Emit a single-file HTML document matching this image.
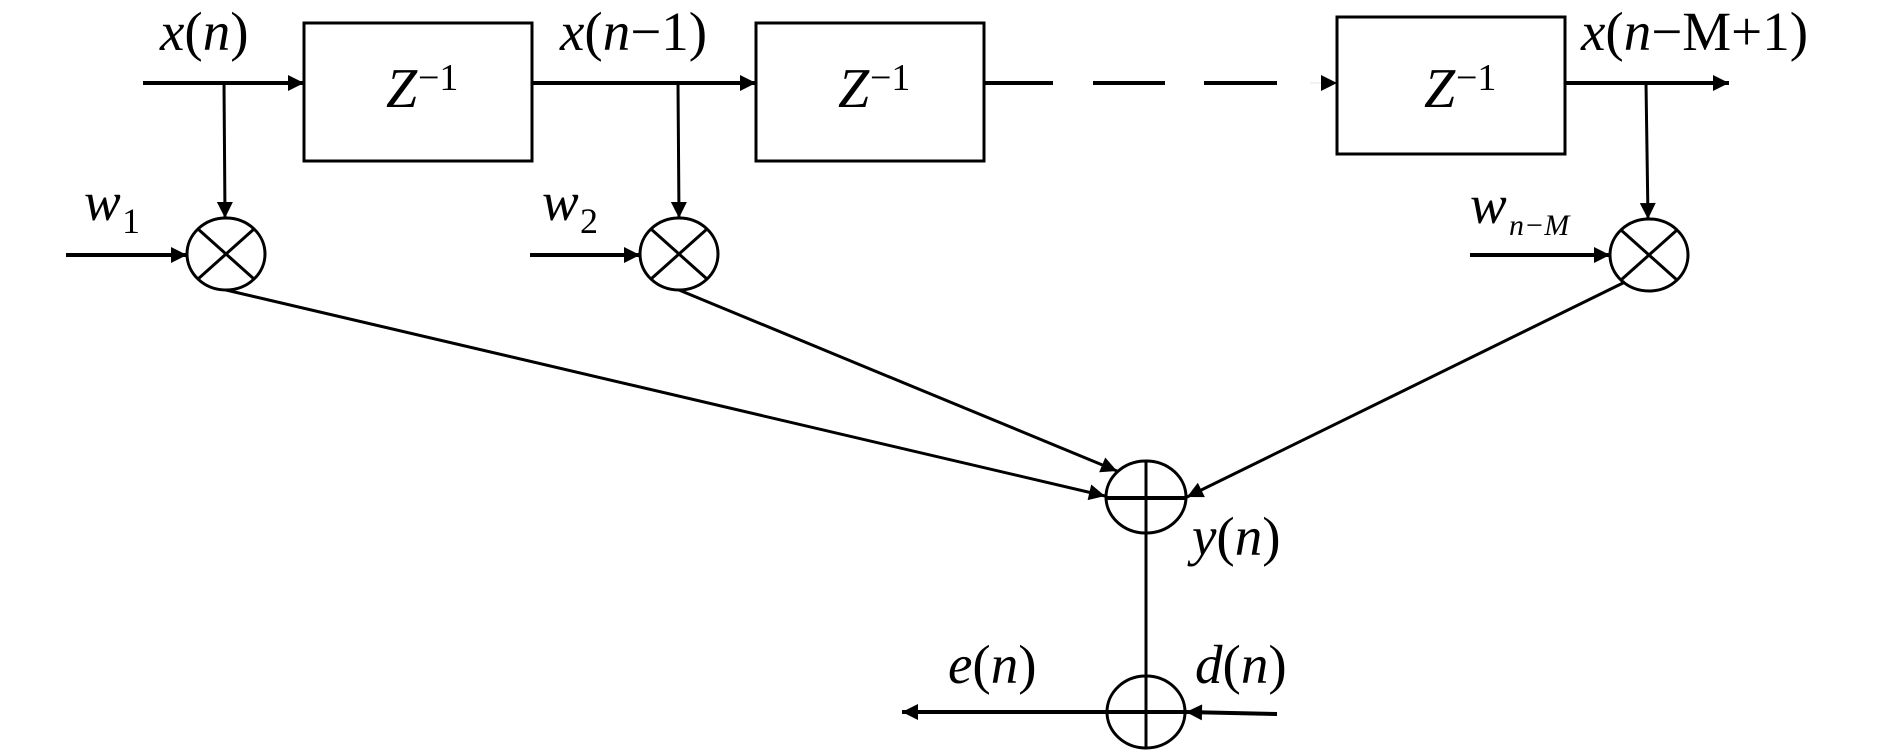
<!DOCTYPE html>
<html><head><meta charset="utf-8"><style>
html,body{margin:0;padding:0;background:#fff}
svg{display:block}
text{font-family:"Liberation Serif",serif;fill:#000}
.i{font-style:italic}
</style></head><body>
<svg width="1890" height="751" viewBox="0 0 1890 751" xmlns="http://www.w3.org/2000/svg">
<defs>
<marker id="a" viewBox="0 0 10 10" refX="10" refY="5" markerWidth="8" markerHeight="6" markerUnits="userSpaceOnUse" orient="auto" overflow="visible">
<path d="M0,0 L10,5 L0,10 Z" fill="#000"/>
</marker>
<marker id="b" viewBox="0 0 10 10" refX="10" refY="5" markerWidth="24" markerHeight="16" markerUnits="userSpaceOnUse" orient="auto">
<path d="M0,0 L10,5 L0,10 Z" fill="#000"/>
</marker>
</defs>
<g stroke="#000" stroke-width="3" fill="none">
<!-- top signal line -->
<line x1="143" y1="83" x2="304" y2="83" stroke-width="4" marker-end="url(#b)"/>
<rect x="304" y="23" width="228" height="138"/>
<line x1="532" y1="83" x2="756" y2="83" stroke-width="4" marker-end="url(#b)"/>
<rect x="756" y="23" width="228" height="138"/>
<line x1="984" y1="83" x2="1053" y2="83" stroke-width="4"/>
<line x1="1093" y1="83" x2="1165" y2="83" stroke-width="4"/>
<line x1="1204" y1="83" x2="1277" y2="83" stroke-width="4"/>
<line x1="1310" y1="83" x2="1337" y2="83" stroke-width="0.1" marker-end="url(#b)"/>
<rect x="1337" y="17" width="228" height="137"/>
<line x1="1565" y1="83" x2="1729" y2="83" stroke-width="4" marker-end="url(#b)"/>
<!-- taps -->
<line x1="224" y1="83" x2="225" y2="218" marker-end="url(#b)"/>
<line x1="678" y1="83" x2="679" y2="218" marker-end="url(#b)"/>
<line x1="1646" y1="83" x2="1648" y2="219" marker-end="url(#b)"/>
<!-- multipliers -->
<ellipse cx="226" cy="254" rx="39" ry="36"/>
<line x1="198" y1="229" x2="254" y2="279"/><line x1="254" y1="229" x2="198" y2="279"/>
<ellipse cx="679" cy="254" rx="39" ry="36"/>
<line x1="651" y1="229" x2="707" y2="279"/><line x1="707" y1="229" x2="651" y2="279"/>
<ellipse cx="1649" cy="255" rx="39" ry="36"/>
<line x1="1621" y1="230" x2="1677" y2="280"/><line x1="1677" y1="230" x2="1621" y2="280"/>
<!-- weight inputs -->
<line x1="66" y1="255" x2="187" y2="255" stroke-width="4" marker-end="url(#b)"/>
<line x1="530" y1="255" x2="640" y2="255" stroke-width="4" marker-end="url(#b)"/>
<line x1="1470" y1="255" x2="1610" y2="255" stroke-width="4" marker-end="url(#b)"/>
<!-- to adder -->
<line x1="226" y1="290" x2="1105" y2="496" marker-end="url(#b)"/>
<line x1="679" y1="290" x2="1117" y2="471" marker-end="url(#b)"/>
<line x1="1625" y1="282" x2="1187" y2="497" marker-end="url(#b)"/>
<!-- adder 1 -->
<ellipse cx="1146" cy="497" rx="40" ry="36"/>
<line x1="1106" y1="498" x2="1187" y2="498" stroke-width="4"/>
<line x1="1146" y1="461" x2="1146" y2="748"/>
<!-- adder 2 -->
<ellipse cx="1146" cy="712" rx="39" ry="36"/>
<line x1="1107" y1="712" x2="902" y2="712" stroke-width="4" marker-end="url(#b)"/>
<line x1="1107" y1="712" x2="1185" y2="712" stroke-width="4"/>
<line x1="1277" y1="714" x2="1186" y2="712" stroke-width="4" marker-end="url(#b)"/>
</g>
<!-- labels -->
<text x="160" y="50" font-size="55"><tspan class="i">x</tspan>(<tspan class="i">n</tspan>)</text>
<text x="386" y="107" font-size="56" class="i">Z</text><text x="418" y="90" font-size="38">−1</text>
<text x="560" y="50" font-size="55"><tspan class="i">x</tspan>(<tspan class="i">n</tspan>−1)</text>
<text x="838" y="107" font-size="56" class="i">Z</text><text x="870" y="90" font-size="38">−1</text>
<text x="1424" y="107" font-size="56" class="i">Z</text><text x="1456" y="90" font-size="38">−1</text>
<text x="1581" y="50" font-size="55"><tspan class="i">x</tspan>(<tspan class="i">n</tspan>−M+1)</text>
<text x="84" y="220" font-size="55" class="i">w</text><text x="122" y="233" font-size="36">1</text>
<text x="542" y="220" font-size="55" class="i">w</text><text x="580" y="233" font-size="36">2</text>
<text x="1470" y="223" font-size="55" class="i">w</text><text x="1509" y="235" font-size="30" class="i">n−M</text>
<text x="1192" y="555" font-size="55"><tspan class="i">y</tspan>(<tspan class="i">n</tspan>)</text>
<text x="948" y="683" font-size="55"><tspan class="i">e</tspan>(<tspan class="i">n</tspan>)</text>
<text x="1195" y="683" font-size="55"><tspan class="i">d</tspan>(<tspan class="i">n</tspan>)</text>
</svg>
</body></html>
